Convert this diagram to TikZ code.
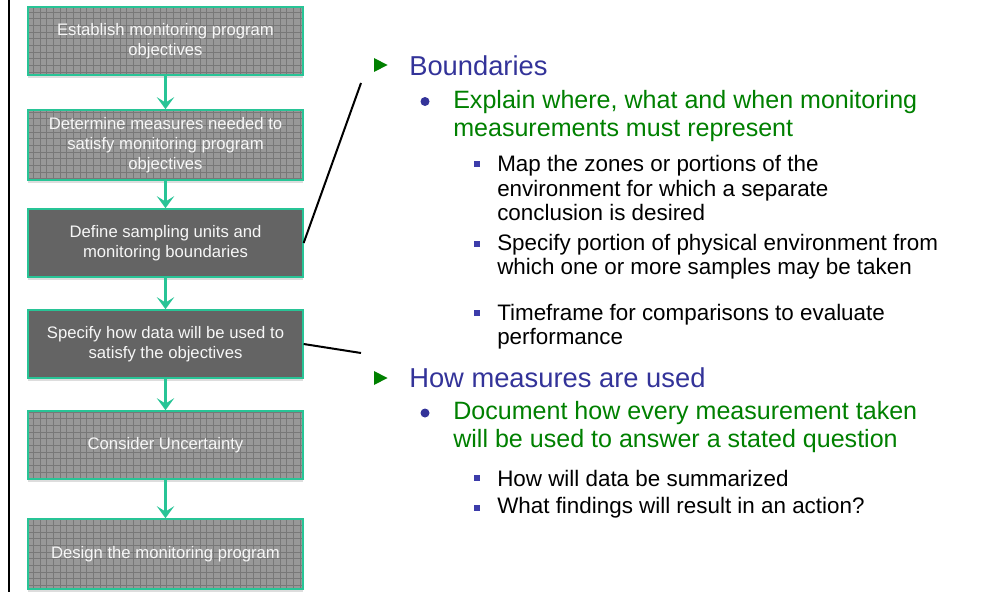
\documentclass[tikz,border=0pt]{standalone}
\usepackage{fontspec}
\setmainfont{Liberation Sans}
\usetikzlibrary{arrows.meta, positioning, patterns.meta, shadows}

\definecolor{flowline}{RGB}{40,196,150}
\definecolor{boxdark}{RGB}{100,100,100}
\definecolor{boxlight}{RGB}{152,152,152}
\definecolor{gridline}{RGB}{120,120,120}
\definecolor{headblue}{RGB}{51,51,153}
\definecolor{itemgreen}{RGB}{0,128,0}
\definecolor{dotblue}{RGB}{60,60,170}

\tikzdeclarepattern{
  name=boxgrid, type=uncolored,
  bottom left={(-0.5pt,-0.5pt)}, top right={(5.5pt,5.5pt)},
  tile size={(5pt,5pt)},
  code={\draw[line width=0.45pt] (0,0) -- (5pt,0) (0,0) -- (0,5pt);}
}

\begin{document}
\begin{tikzpicture}[
    x=0.75pt, y=-0.75pt,
    flowbox/.style={draw=flowline, line width=1.2pt, minimum width=206pt, minimum height=51pt,
        align=center, inner sep=2pt, text=white!94!gray, font=\fontsize{12.5}{15}\selectfont,
        drop shadow={shadow xshift=0pt, shadow yshift=-2.2pt, fill=gray!45, opacity=0.6}},
    gridbox/.style={flowbox, preaction={fill=boxlight}, pattern=boxgrid, pattern color=gridline},
    darkbox/.style={flowbox, fill=boxdark},
    flowarrow/.style={draw=flowline, line width=2.4pt, -{Stealth[length=9pt, width=13pt, inset=4pt]}},
    callout/.style={draw=black, line width=1.5pt},
    headtext/.style={anchor=west, inner sep=0pt, text=headblue, font=\fontsize{20.5}{24}\selectfont},
    greentext/.style={anchor=west, inner sep=0pt, align=left, text=itemgreen, font=\fontsize{18.8}{21}\selectfont},
    subtext/.style={anchor=west, inner sep=0pt, align=left, text=black, font=\fontsize{16.8}{18.2}\selectfont}
]
\useasboundingbox (0,0) rectangle (1002,592);

% Left rule
\draw[line width=2.2pt] (9,0) -- (9,592);

% Flow boxes
\node[gridbox] (objectives) at (165.5,41) {Establish monitoring program\\objectives};
\node[gridbox, minimum height=52.5pt] (measures) at (165.5,145) {Determine measures needed to\\satisfy monitoring program\\objectives};
\node[darkbox] (sampling) at (165.5,243) {Define sampling units and\\monitoring boundaries};
\node[darkbox] (datause) at (165.5,344) {Specify how data will be used to\\satisfy the objectives};
\node[gridbox] (uncertainty) at (165.5,445) {Consider Uncertainty};
\node[gridbox, minimum height=52.5pt] (design) at (165.5,554) {Design the monitoring program};

% Flow arrows
\draw[flowarrow] (objectives) -- (measures);
\draw[flowarrow] (measures) -- (sampling);
\draw[flowarrow] (sampling) -- (datause);
\draw[flowarrow] (datause) -- (uncertainty);
\draw[flowarrow] (uncertainty) -- (design);

% Callout lines
\coordinate (bndtip) at (361,83);
\coordinate (usetip) at (361,353);
\draw[callout] (sampling.east) -- (bndtip);
\draw[callout] (datause.east) -- (usetip);

% Bullets
\fill[itemgreen] (374,58) -- (387.5,65) -- (374,72) -- cycle;
\fill[itemgreen] (374,371) -- (387.5,378) -- (374,385) -- cycle;
\fill[headblue] (425,101.5) circle (4.5);
\fill[headblue] (425,413) circle (4.5);
\foreach \y in {164,244,313,478,508} {
    \fill[dotblue] (474,\y-3) rectangle (480,\y+3);
}

% Text
\node[headtext] (bnd) at (409,66) {Boundaries};
\node[greentext] (explain) at (453,116) {Explain where, what and when monitoring\\measurements must represent};
\node[subtext] (zones) at (497,188) {Map the zones or portions of the\\environment for which a separate\\conclusion is desired};
\node[subtext] (portion) at (497,257) {Specify portion of physical environment from\\which one or more samples may be taken};
\node[subtext] (timeframe) at (497,327) {Timeframe for comparisons to evaluate\\performance};
\node[headtext] (howused) at (409,378) {How measures are used};
\node[greentext] (document) at (453,427) {Document how every measurement taken\\will be used to answer a stated question};
\node[subtext] (summary) at (497,478) {How will data be summarized};
\node[subtext] (findings) at (497,508) {What findings will result in an action?};

\end{tikzpicture}
\end{document}
